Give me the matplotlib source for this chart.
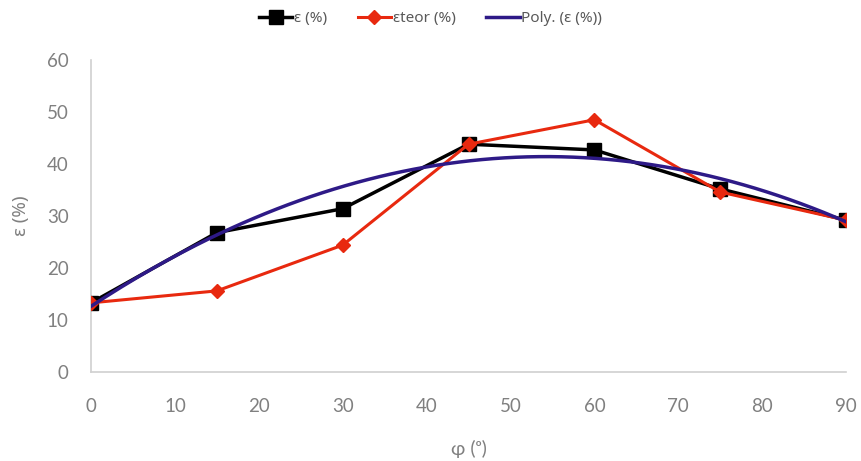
import numpy as np
import matplotlib
matplotlib.use('Agg')
import matplotlib.pyplot as plt

plt.rcParams['font.family'] = ['Lato', 'DejaVu Sans']

phi = [0, 15, 30, 45, 60, 75, 90]
eps = [13.3, 26.8, 31.4, 43.8, 42.7, 35.2, 29.2]
eps_teor = [13.3, 15.6, 24.4, 43.8, 48.5, 34.6, 29.2]

# polynomial trendline (order 2) fitted on eps, as in the spreadsheet
coef = np.polyfit(phi, eps, 2)
xs = np.linspace(0, 90, 200)
ys = np.polyval(coef, xs)

fig = plt.figure(figsize=(8.61, 4.61), dpi=100)
ax = fig.add_axes([0.1057, 0.193, 0.877, 0.677])

ax.plot(phi, eps, color='black', lw=2.5, marker='s', markersize=10, label='ε (%)', zorder=3)
ax.plot(phi, eps_teor, color='#e8290f', lw=2.2, marker='D', markersize=7.5, label='εteor (%)', zorder=4)
ax.plot(xs, ys, color='#2e1a87', lw=2.5, label='Poly. (ε (%))', zorder=5)

ax.set_xlim(0, 90)
ax.set_ylim(0, 60)
ax.set_xticks(range(0, 91, 10))
ax.set_yticks(range(0, 61, 10))
ax.tick_params(length=0, labelsize=13.5, colors='#808080')
ax.tick_params(axis='x', pad=19)
ax.tick_params(axis='y', pad=16)
for s in ['top', 'right']:
    ax.spines[s].set_visible(False)
for s in ['left', 'bottom']:
    ax.spines[s].set_color('#d0d0d0')
    ax.spines[s].set_linewidth(1.2)

greek = ['Noto Sans', 'DejaVu Sans']
ax.set_ylabel('ε (%)', fontsize=13.5, color='#808080', labelpad=12, family=greek)
ax.set_xlabel('φ (ᵒ)', fontsize=14, color='#808080', labelpad=18)

leg = fig.legend(loc='center', bbox_to_anchor=(0.5, 0.96), ncol=3, frameon=False,
                 handlelength=2.2, handletextpad=0.1, columnspacing=2.0,
                 prop={'family': greek, 'size': 11})
for t in leg.get_texts():
    t.set_color('#595959')

fig.savefig('out.png', dpi=100)
